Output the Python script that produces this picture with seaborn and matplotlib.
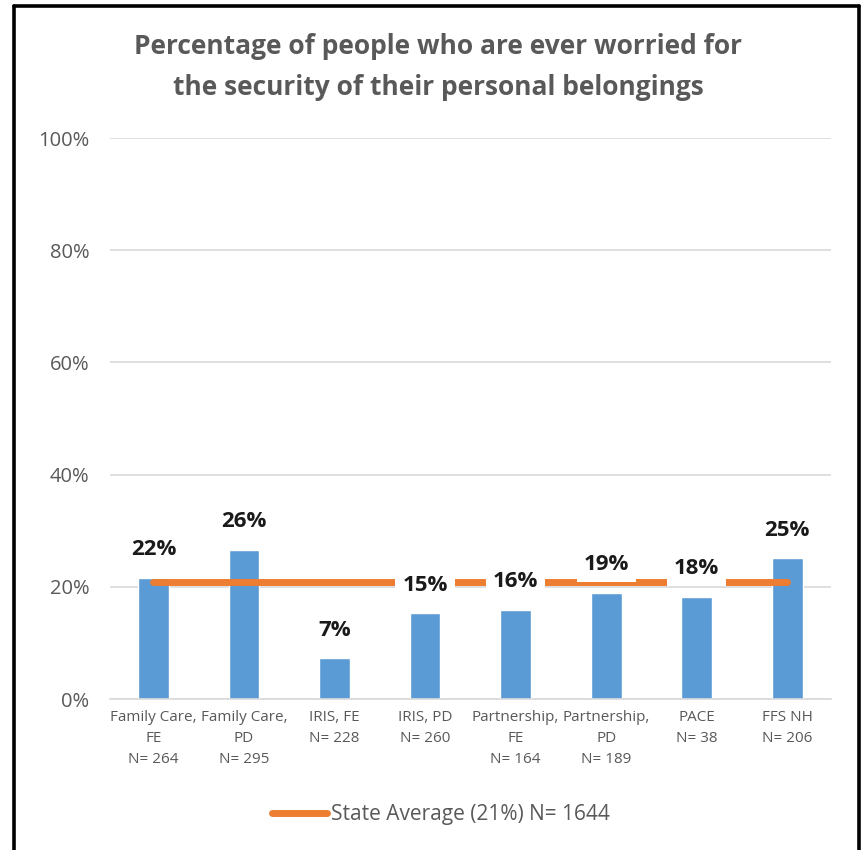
import numpy as np
import pandas as pd
import seaborn as sns
import matplotlib.pyplot as plt
from matplotlib.lines import Line2D

# chart data
groups = ["Family Care,\nFE\nN= 264", "Family Care,\nPD\nN= 295", "IRIS, FE\nN= 228",
          "IRIS, PD\nN= 260", "Partnership,\nFE\nN= 164", "Partnership,\nPD\nN= 189",
          "PACE\nN= 38", "FFS NH\nN= 206"]
values = [21.6, 26.6, 7.3, 15.3, 15.9, 18.9, 18.2, 25.1]
labels = ["22%", "26%", "7%", "15%", "16%", "19%", "18%", "25%"]
state_avg = 20.9
legend_text = "State Average (21%) N= 1644"
title = "Percentage of people who are ever worried for\nthe security of their personal belongings"

df = pd.DataFrame({"group": groups, "value": values})

sns.set_style("white")
plt.rcParams['font.family'] = ['Open Sans', 'DejaVu Sans']

fig = plt.figure(figsize=(8.63, 8.5), dpi=100)
ax = fig.add_axes([0.1275, 0.1776, 0.835, 0.66])

sns.barplot(data=df, x="group", y="value", color="#5B9BD5", saturation=1,
            width=0.34, ax=ax, zorder=2)

x = np.arange(len(groups))
ax.plot([x[0], x[-1]], [state_avg, state_avg], color="#ED7D31", lw=5,
        solid_capstyle="round", zorder=3)

for xi, v, lab in zip(x, values, labels):
    ax.text(xi, v + 5.0, lab, ha="center", va="center", fontsize=16,
            fontweight="bold", color="#1a1a1a", zorder=4,
            bbox=dict(facecolor="white", edgecolor="none", pad=5))

ax.set_ylim(0, 100)
ax.set_xlim(-0.48, 7.48)
ax.set_yticks(range(0, 101, 20))
ax.set_yticklabels([f"{t}%" for t in range(0, 101, 20)], fontsize=14.5, color="#595959")
ax.tick_params(axis="x", labelsize=11, colors="#595959", length=0, pad=8)
ax.tick_params(axis="y", length=0, pad=15)
for t in ax.get_xticklabels():
    t.set_linespacing(1.55)
ax.yaxis.grid(True, color="#D9D9D9", lw=1.2, zorder=0)
ax.set_axisbelow(True)
for s in ["top", "right", "left"]:
    ax.spines[s].set_visible(False)
ax.spines["bottom"].set_color("#D9D9D9")
ax.spines["bottom"].set_linewidth(1.2)
ax.set_xlabel("")
ax.set_ylabel("")

fig.text(0.508, 0.921, title, ha="center", va="center", fontsize=19,
         fontweight="bold", color="#595959", linespacing=1.65)

leg = fig.legend(handles=[Line2D([0], [0], color="#ED7D31", lw=5, solid_capstyle="round")],
                 labels=[legend_text], loc="center", bbox_to_anchor=(0.511, 0.042),
                 frameon=False, fontsize=15, handlelength=2.6, handletextpad=0.2)
for t in leg.get_texts():
    t.set_color("#595959")

# black frame around the chart (no bottom edge)
for xs, ys in [([0.0168, 0.0168], [0.0, 0.9924]), ([0.9954, 0.9954], [0.0, 0.9924]),
               ([0.0168, 0.9954], [0.9924, 0.9924])]:
    fig.add_artist(Line2D(xs, ys, color="black", lw=2.6, transform=fig.transFigure))

fig.savefig("out.png", dpi=100)
